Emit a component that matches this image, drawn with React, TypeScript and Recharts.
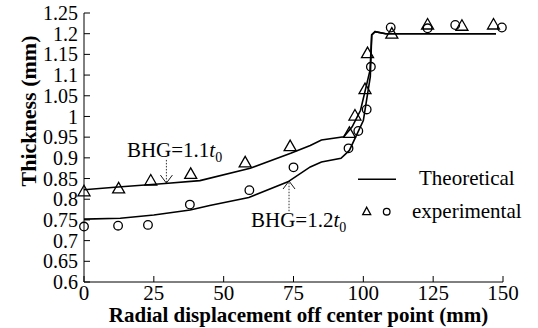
import React from "react";
import { ComposedChart, Line, Scatter, XAxis, YAxis, ReferenceLine } from "recharts";

const FONT = "'Liberation Serif', 'Times New Roman', serif";

const xTicks = [0, 25, 50, 75, 100, 125, 150];
const yTicks = [0.6, 0.65, 0.7, 0.75, 0.8, 0.85, 0.9, 0.95, 1, 1.05, 1.1, 1.15, 1.2, 1.25];

// theoretical curve, BHG = 1.1 t0
const theory11X = [0, 11, 29, 41.5, 59.5, 74, 81, 85, 93, 96, 99, 102.4, 103, 104.2, 108, 147.5];
const theory11Y = [0.823, 0.829, 0.838, 0.845, 0.875, 0.911, 0.93, 0.943, 0.951, 0.975, 1.015, 1.112, 1.197, 1.205, 1.2, 1.2];

// theoretical curve, BHG = 1.2 t0
const theory12X = [0, 13, 25, 38, 45, 59, 73, 81, 85, 92, 95, 100, 102.5, 103, 104.2, 108, 147.5];
const theory12Y = [0.752, 0.754, 0.762, 0.774, 0.785, 0.804, 0.842, 0.878, 0.89, 0.899, 0.918, 0.99, 1.096, 1.197, 1.205, 1.2, 1.2];

// experimental, triangles (1.1 t0)
const exp11X = [0, 12.4, 23.9, 38.2, 57.7, 73.8, 95.0, 97.0, 100.6, 101.5, 110.2, 123, 135.3, 146.6];
const exp11Y = [0.818, 0.825, 0.844, 0.86, 0.888, 0.927, 0.959, 1.001, 1.065, 1.152, 1.199, 1.221, 1.218, 1.221];

// experimental, circles (1.2 t0)
const exp12X = [0, 12.2, 22.9, 37.9, 59.2, 75, 94.7, 98.2, 101.2, 102.7, 109.8, 123, 132.9, 149.6];
const exp12Y = [0.734, 0.736, 0.738, 0.787, 0.822, 0.877, 0.923, 0.965, 1.017, 1.12, 1.215, 1.213, 1.221, 1.215];

const pts = (xs: number[], ys: number[]) => xs.map((x, i) => ({ x, y: ys[i] }));

const Triangle = (p: any) => (
  <path
    d={`M${p.cx},${p.cy - 6.5}L${p.cx + 6},${p.cy + 4}L${p.cx - 6},${p.cy + 4}Z`}
    fill="none"
    stroke="#000"
    strokeWidth={1.3}
  />
);

const Circle = (p: any) => <circle cx={p.cx} cy={p.cy} r={4.3} fill="none" stroke="#000" strokeWidth={1.3} />;

const arrow = (value: string, dx: number, dy: number) => (p: any) => {
  const { x1, y1, x2, y2 } = p;
  const len = Math.hypot(x2 - x1, y2 - y1) || 1;
  const ux = (x2 - x1) / len;
  const uy = (y2 - y1) / len;
  const bx = x2 - ux * 8;
  const by = y2 - uy * 8;
  return (
    <g>
      <line x1={x1} y1={y1} x2={x2} y2={y2} stroke="#333" strokeWidth={1} strokeDasharray="1.5 1.5" />
      <path
        d={`M${bx - uy * 6},${by + ux * 6}L${x2},${y2}L${bx + uy * 6},${by - ux * 6}`}
        fill="none"
        stroke="#000"
        strokeWidth={0.9}
      />
      <text x={x1 + dx} y={y1 + dy} fontSize={21} fontFamily={FONT} fill="#000">
        {value}
        <tspan fontStyle="italic">t</tspan>
        <tspan fontSize={14} dy={5}>0</tspan>
      </text>
    </g>
  );
};

const LegendBox = () => (
  <svg width={188} height={70} style={{ position: "absolute", left: 350, top: 160 }}>
    <line x1={8} y1={19.3} x2={46} y2={19.3} stroke="#000" strokeWidth={1.6} />
    <text x={69} y={25} fontSize={21} fontFamily={FONT}>Theoretical</text>
    <path d="M16.7,47.2L20.7,54.7L12.7,54.7Z" fill="none" stroke="#000" strokeWidth={1.3} />
    <circle cx={36.7} cy={51.7} r={3.3} fill="none" stroke="#000" strokeWidth={1.3} />
    <text x={62} y={58} fontSize={21} fontFamily={FONT}>experimental</text>
  </svg>
);

export default function App() {
  const xTickStyle = { fontSize: 21, fontFamily: FONT, fill: "#000" };
  const yTickStyle = { fontSize: 20, fontFamily: FONT, fill: "#000" };
  return (
    <div style={{ position: "absolute", left: 0, top: 0, width: 538, height: 328 }}>
      <ComposedChart width={538} height={328} margin={{ top: 13, right: 35, bottom: 0, left: 0 }}>
        <XAxis
          dataKey="x"
          type="number"
          domain={[0, 150]}
          ticks={xTicks}
          height={46}
          tickSize={-6}
          tickMargin={9}
          tick={xTickStyle}
          axisLine={{ stroke: "#000" }}
          tickLine={{ stroke: "#000" }}
          label={{
            content: (p: any) => (
              <text
                x={p.viewBox.x + p.viewBox.width / 2 + 5}
                y={322}
                textAnchor="middle"
                fontSize={21}
                fontWeight="bold"
                fontFamily={FONT}
              >
                Radial displacement off center point (mm)
              </text>
            ),
          }}
        />
        <YAxis
          type="number"
          domain={[0.6, 1.25]}
          ticks={yTicks}
          width={84}
          interval={0}
          tickSize={-6}
          tickMargin={12}
          tick={yTickStyle}
          tickFormatter={(v: number) => String(Number(v.toFixed(2)))}
          axisLine={{ stroke: "#000" }}
          tickLine={{ stroke: "#000" }}
          label={{
            content: () => (
              <text
                x={28}
                y={111}
                transform="rotate(-90 28 111)"
                textAnchor="middle"
                dominantBaseline="central"
                fontSize={22}
                fontWeight="bold"
                fontFamily={FONT}
              >
                Thickness (mm)
              </text>
            ),
          }}
        />
        <Line data={pts(theory11X, theory11Y)} dataKey="y" type="linear" stroke="#000" strokeWidth={1.6} dot={false} isAnimationActive={false} />
        <Line data={pts(theory12X, theory12Y)} dataKey="y" type="linear" stroke="#000" strokeWidth={1.6} dot={false} isAnimationActive={false} />
        <Scatter data={pts(exp11X, exp11Y)} dataKey="y" shape={<Triangle />} isAnimationActive={false} />
        <Scatter data={pts(exp12X, exp12Y)} dataKey="y" shape={<Circle />} isAnimationActive={false} />
        <ReferenceLine segment={[{ x: 29.5, y: 0.895 }, { x: 29.5, y: 0.839 }]} shape={arrow("BHG=1.1", -39.5, -3)} />
        <ReferenceLine segment={[{ x: 73.4, y: 0.771 }, { x: 73.4, y: 0.844 }]} shape={arrow("BHG=1.2", -38, 16)} />
      </ComposedChart>
      <LegendBox />
    </div>
  );
}
